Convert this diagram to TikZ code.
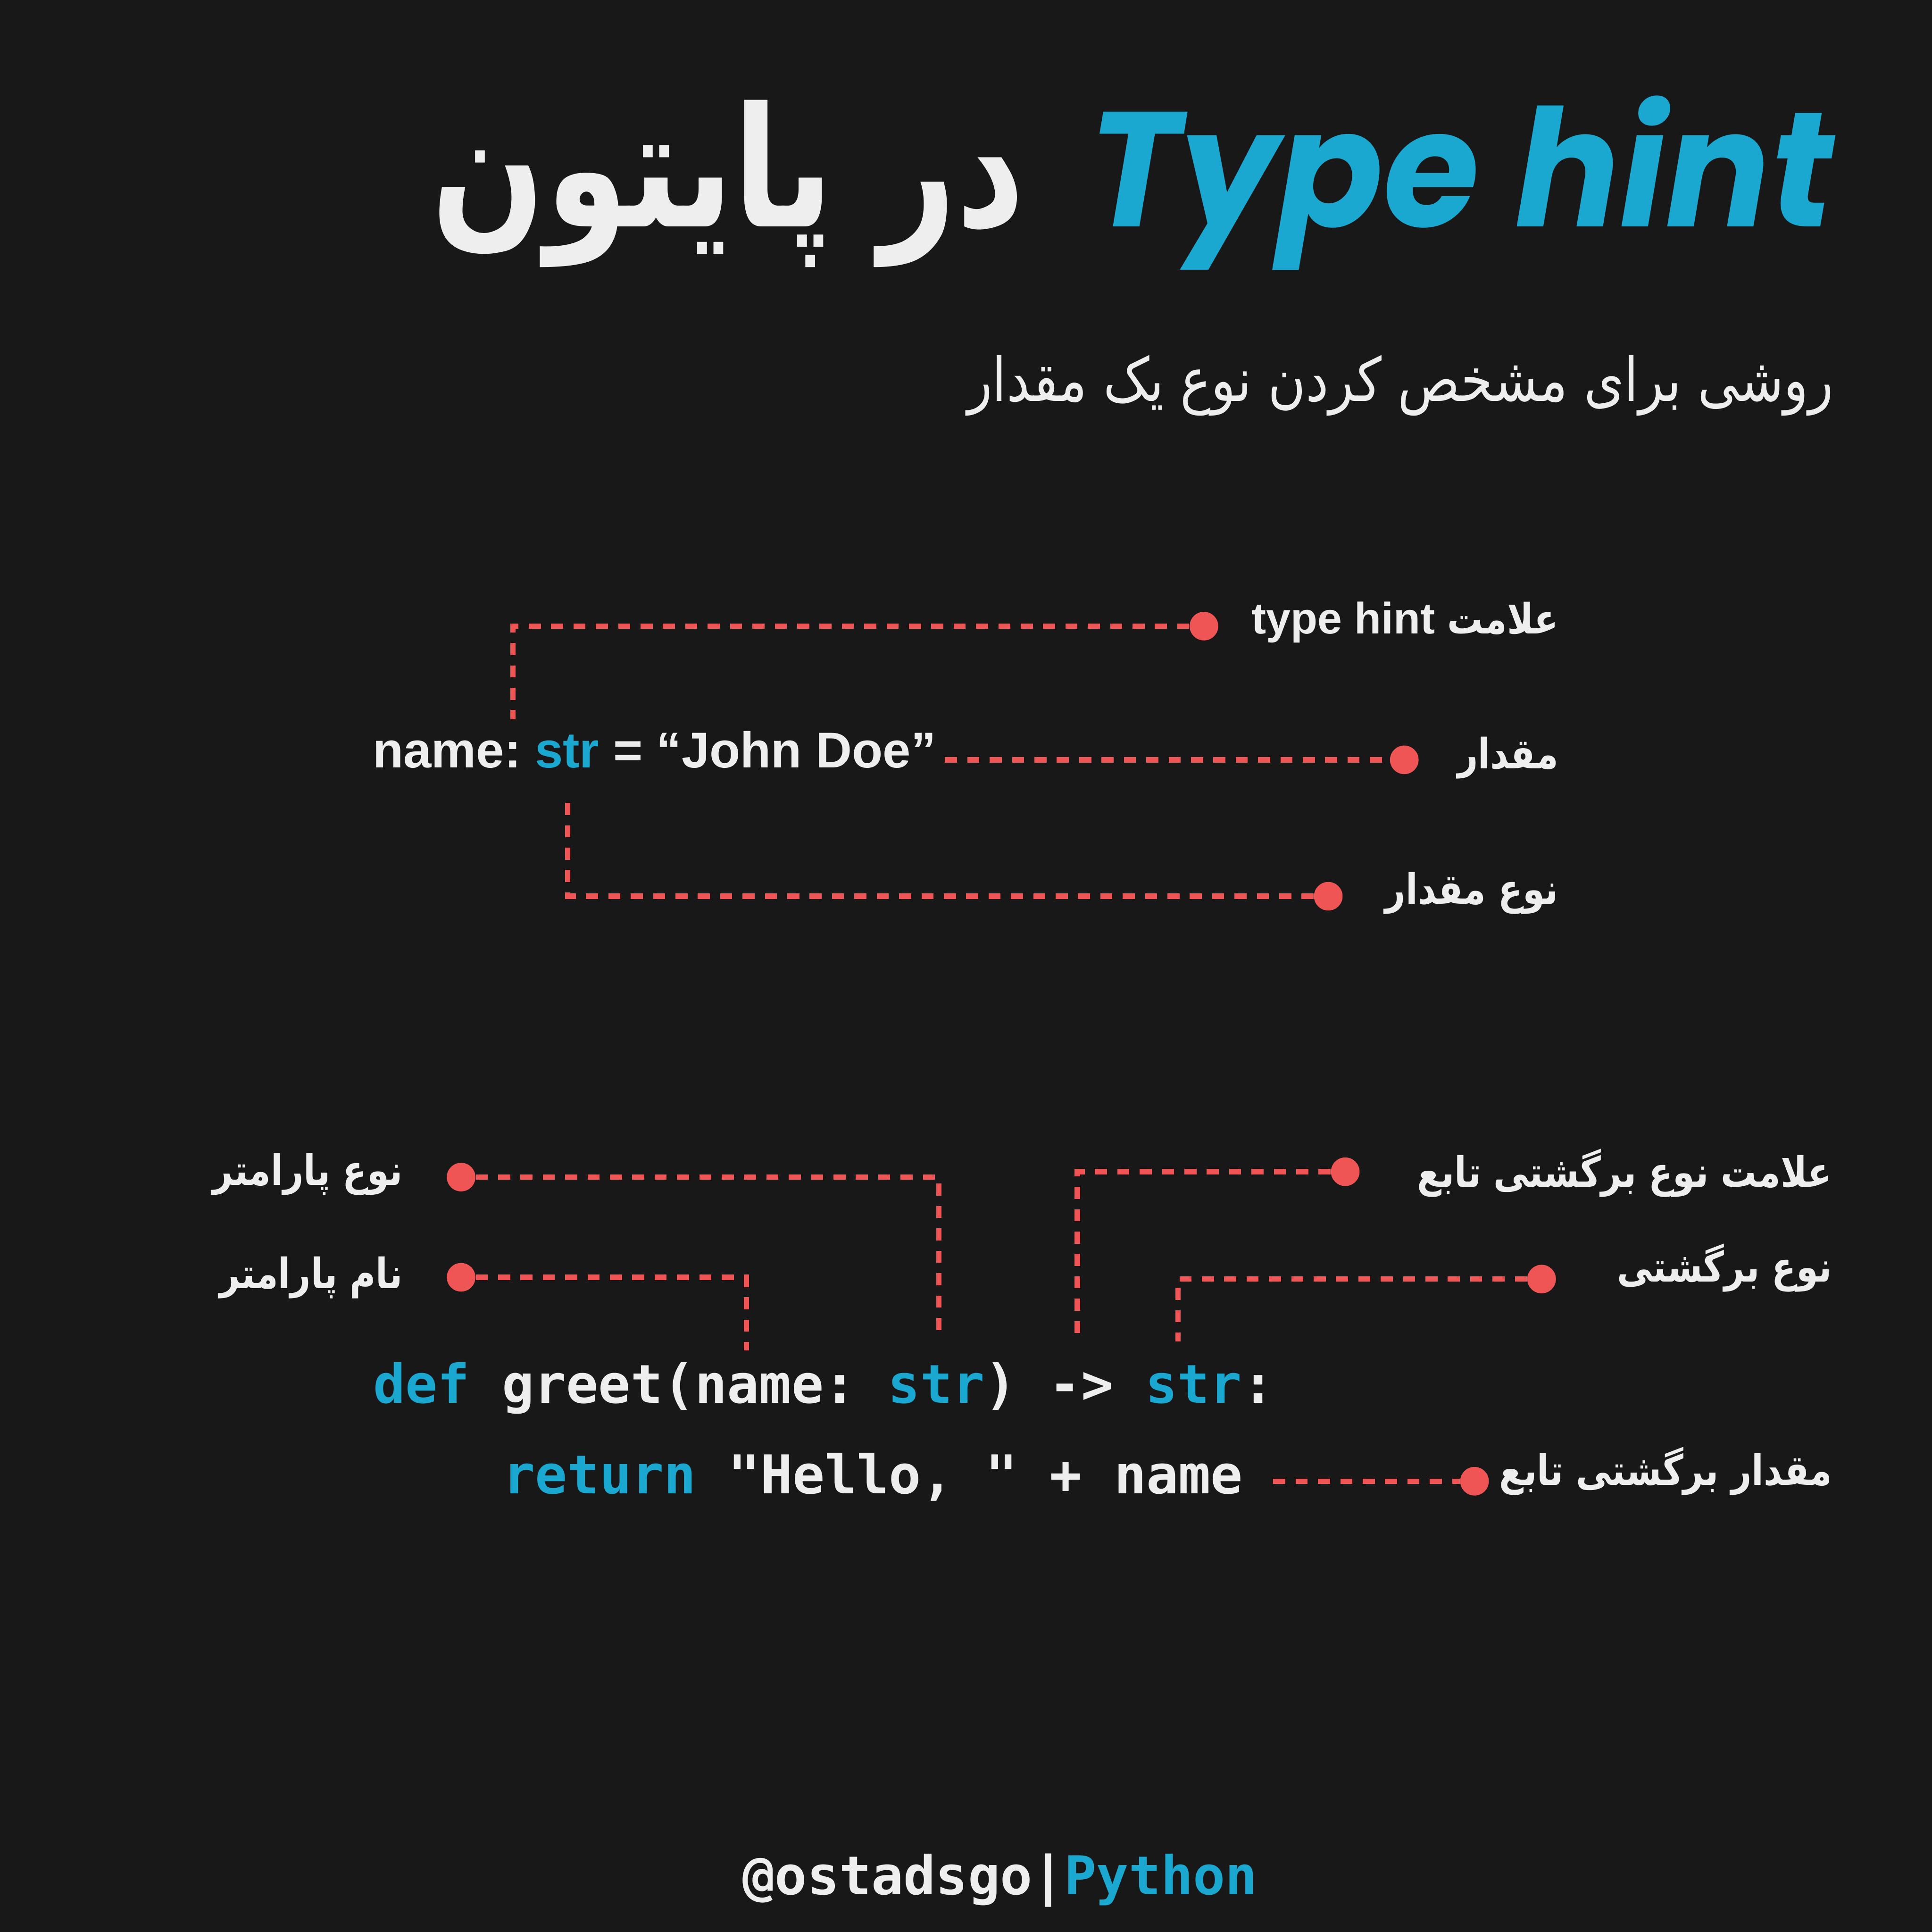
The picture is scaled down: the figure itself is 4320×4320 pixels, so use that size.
\documentclass[tikz,border=0pt]{standalone}
\usepackage{fontspec}
\setmainfont{DejaVu Sans}
\newfontfamily\fafont[Script=Arabic, FakeStretch=0.85]{DejaVu Sans}
\newfontfamily\fahead[Script=Arabic, FakeStretch=0.8]{DejaVu Sans}
\newfontfamily\codefont{DejaVu Sans Mono}
\newfontfamily\headfont[FakeStretch=0.95]{Poppins}
\newfontfamily\latinfont{Liberation Sans}
\TeXXeTstate=1
\frenchspacing
\definecolor{bgdark}{RGB}{24, 24, 24}
\definecolor{hintblue}{RGB}{26, 167, 208}
\definecolor{hintwhite}{RGB}{238, 238, 238}
\definecolor{hintred}{RGB}{240, 85, 85}
\usetikzlibrary{positioning}
\tikzset{
  falabel/.style={text=hintwhite, inner sep=0pt, font=\fafont\bfseries\fontsize{26.6}{30}\selectfont},
  hintdot/.style={circle, fill=hintred, minimum size=6.4mm, inner sep=0pt},
  hintline/.style={draw=hintred, line width=1.2mm, dash pattern=on 2.7mm off 2.3mm},
  codeline/.style={text=hintwhite, inner sep=0pt, font=\codefont\bfseries\fontsize{34}{38}\selectfont},
}
\newcommand{\kw}[1]{\textcolor{hintblue}{#1}}

\begin{document}
\begin{tikzpicture}[x=0.1mm, y=-0.1mm]
  \fill[bgdark] (0,0) rectangle (4320,4320);
  % title
  \node[anchor=base east, inner sep=0pt, text=hintblue, font=\headfont\bfseries\itshape\fontsize{104}{110}\selectfont] (th) at (4100,507) {Type hint};
  \node[base left=14mm of th, inner sep=0pt, text=hintwhite, font=\fahead\bfseries\fontsize{106}{110}\selectfont] (tp) {\beginR در پایتون\endR};
  \node[anchor=base east, inner sep=0pt, text=hintwhite, font=\fafont\fontsize{38.5}{42}\selectfont] (sub) at (4100,897) {\beginR روشی برای مشخص کردن نوع یک مقدار\endR};

  % variable annotation
  \node[anchor=base west, inner sep=0pt, text=hintwhite, font=\latinfont\bfseries\fontsize{32}{36}\selectfont] (nm) at (833,1716) {name: \kw{str} = “John Doe”};
  \node[falabel, anchor=east] (l1) at (3485,1391) {\beginR علامت \beginL{\latinfont\fontsize{28}{32}\selectfont type hint}\endL\endR};
  \node[falabel, anchor=east] (l2) at (3485,1694) {\beginR مقدار\endR};
  \node[falabel, anchor=east] (l3) at (3485,1997) {\beginR نوع مقدار\endR};
  \node[hintdot] (d1) at (2692,1400) {};
  \node[hintdot] (d2) at (3140,1699) {};
  \node[hintdot] (d3) at (2970,2004) {};
  \coordinate (t1) at (1147,1608);
  \coordinate (s2) at (2113,1699);
  \coordinate (t3) at (1269,1787);

  % function annotation
  \node[codeline, anchor=base west] (c1) at (834,3137) {\kw{def} greet(name: \kw{str}) -> \kw{str}:};
  \node[codeline, anchor=base west] (c2) at (1124,3340) {\kw{return} "Hello, " + name};
  \node[falabel, anchor=east] (l4) at (901,2626) {\beginR نوع پارامتر\endR};
  \node[falabel, anchor=east] (l5) at (901,2857) {\beginR نام پارامتر\endR};
  \node[falabel, anchor=east] (l6) at (4097,2623) {\beginR علامت نوع برگشتی تابع\endR};
  \node[falabel, anchor=east] (l7) at (4097,2835) {\beginR نوع برگشتی\endR};
  \node[falabel, anchor=east] (l8) at (4097,3290) {\beginR مقدار برگشتی تابع\endR};
  \node[hintdot] (d4) at (1031,2632) {};
  \node[hintdot] (d5) at (1031,2856) {};
  \node[hintdot] (d6) at (3008,2620) {};
  \node[hintdot] (d7) at (3447,2860) {};
  \node[hintdot] (d8) at (3297,3312) {};
  \coordinate (t4) at (2099,2990);
  \coordinate (t5) at (1669,3020);
  \coordinate (t6) at (2409,2992);
  \coordinate (t7) at (2634,3000);
  \coordinate (s8) at (2847,3312);

  \foreach \i/\j in {d1/t1,d3/t3,d4/t4,d5/t5,d6/t6,d7/t7} \draw[hintline] (\i) -| (\j);
  \foreach \i/\j in {s2/d2,s8/d8} \draw[hintline] (\i) -- (\j);

  % footer
  \node[codeline, anchor=base west] (ft) at (1660,4236) {@ostadsgo|\kw{Python}};
\end{tikzpicture}
\end{document}
